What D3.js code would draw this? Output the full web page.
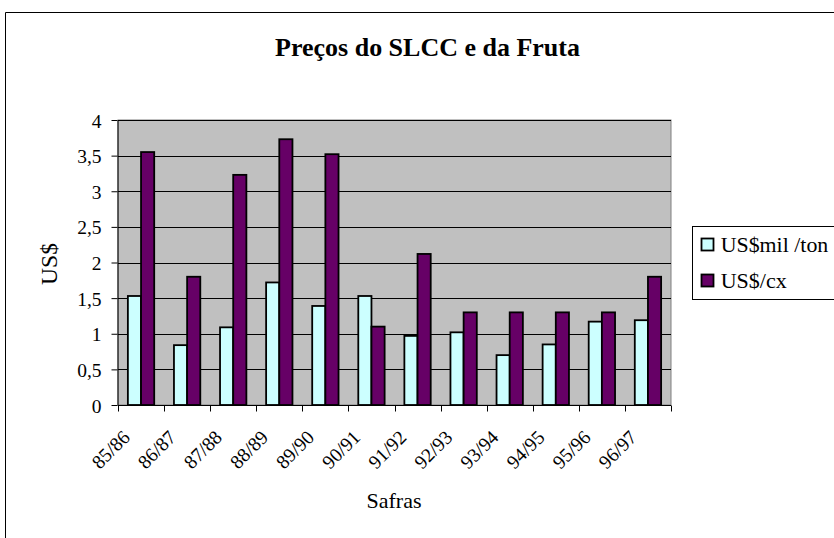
<!DOCTYPE html>
<html><head><meta charset="utf-8">
<script src="https://cdn.jsdelivr.net/npm/d3@7"></script>
<style>body{margin:0;background:#fff}svg{display:block}</style>
</head><body>
<svg id="c" width="834" height="538"></svg>
<script>
const categories = ["85/86","86/87","87/88","88/89","89/90","90/91","91/92","92/93","93/94","94/95","95/96","96/97"];
const seriesNames = ["US$mil /ton","US$/cx"];
const tonValues = [1.53,0.84,1.09,1.72,1.39,1.53,0.97,1.02,0.70,0.85,1.17,1.19];
const cxValues = [3.55,1.80,3.23,3.73,3.52,1.10,2.12,1.30,1.30,1.30,1.30,1.80];
const yTicks = [0,0.5,1,1.5,2,2.5,3,3.5,4];
const colors = ["#ccffff","#660066"];
const FF = "Liberation Serif";

const svg = d3.select("#c");
function fit(sel, w){
  sel.attr("font-size",20);
  const m = sel.node().getComputedTextLength();
  sel.attr("font-size", 20*w/m);
  return sel;
}
svg.append("path").attr("d","M5.5,538 V12.5 H834").attr("fill","none").attr("stroke","#000").attr("stroke-width",1);

const L=118, R=671, T=120, B=405;
const x = d3.scaleBand().domain(categories).range([L,R]).paddingInner(0).paddingOuter(0);
const y = d3.scaleLinear().domain([0,4]).range([B,T]);

svg.append("rect").attr("x",L).attr("y",T).attr("width",R-L).attr("height",B-T)
  .attr("fill","#c0c0c0").attr("stroke","#808080").attr("stroke-width",1);

svg.append("g").selectAll("line").data(yTicks.filter(d=>d>0)).join("line")
  .attr("x1",L).attr("x2",R).attr("y1",d=>Math.round(y(d))+0.5).attr("y2",d=>Math.round(y(d))+0.5)
  .attr("stroke","#000").attr("stroke-width",1);

const fmt = d => String(d).replace(".",",");
const yAxis = d3.axisLeft(y).tickValues(yTicks).tickFormat(fmt).tickSize(6).tickPadding(10).tickSizeOuter(0);
const gy = svg.append("g").attr("transform",`translate(${L-0.5},0)`).call(yAxis);
gy.attr("font-family",FF).attr("font-size",19.5);
gy.selectAll("text").attr("fill","#000").attr("dy","0.36em");
gy.selectAll("line,path").attr("stroke","#000");

const inner = d3.scaleBand().domain([0,1]).range([0,x.bandwidth()]).paddingInner(0).paddingOuter(0.75);
const data = categories.map((c,i)=>({c,v:[tonValues[i],cxValues[i]]}));
const g = svg.append("g");
data.forEach(d=>{
  d.v.forEach((v,k)=>{
    g.append("rect").attr("x",x(d.c)+inner(k)).attr("y",y(v)).attr("width",inner.bandwidth()).attr("height",B-y(v))
      .attr("fill",colors[k]).attr("stroke","#000").attr("stroke-width",1.8);
  });
});

const gx = svg.append("g").attr("transform",`translate(0,${B+0.5})`);
gx.append("line").attr("x1",L).attr("x2",R).attr("stroke","#000");
const bounds = categories.map(c=>x(c)).concat([R]);
gx.selectAll(".tk").data(bounds).join("line").attr("class","tk")
  .attr("x1",d=>Math.round(d)+0.5).attr("x2",d=>Math.round(d)+0.5).attr("y1",0).attr("y2",6).attr("stroke","#000");
gx.selectAll(".lb").data(categories).join("text").attr("class","lb")
  .attr("transform",d=>`translate(${x(d)+x.bandwidth()/2-10},${33}) rotate(-45)`)
  .attr("text-anchor","end").attr("font-family",FF).attr("font-size",19.5).text(d=>d);

fit(svg.append("text").attr("x",427.5).attr("y",56).attr("text-anchor","middle").attr("font-family",FF).attr("font-weight","bold").text("Preços do SLCC e da Fruta"),305);
fit(svg.append("text").attr("x",394).attr("y",508).attr("text-anchor","middle").attr("font-family",FF).text("Safras"),55);
fit(svg.append("text").attr("transform",`translate(57,264) rotate(-90)`).attr("text-anchor","middle").attr("font-family",FF).text("US$"),42);

const lg = svg.append("g");
lg.append("rect").attr("x",692.5).attr("y",226.5).attr("width",150).attr("height",73).attr("fill","#fff").attr("stroke","#000");
const lw = [107.7,66];
seriesNames.forEach((n,i)=>{
  const yy = 238.5 + i*36;
  lg.append("rect").attr("x",701.5).attr("y",yy).attr("width",12).attr("height",12).attr("fill",colors[i]).attr("stroke","#000").attr("stroke-width",1.8);
  fit(lg.append("text").attr("x",720.7).attr("y",yy+13).attr("font-family",FF).text(n), lw[i]);
});
</script>
</body></html>
